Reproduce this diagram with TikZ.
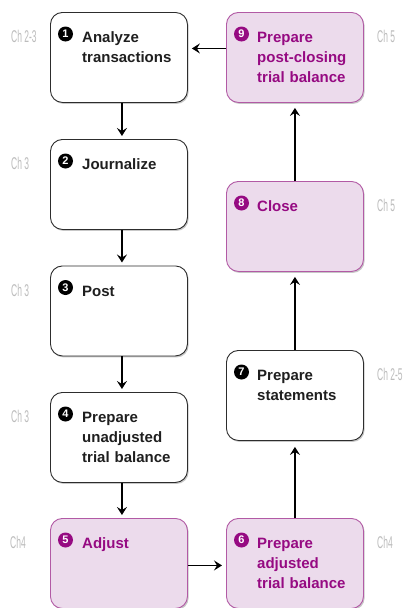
\documentclass[tikz,border=0pt]{standalone}
\usepackage{fontspec}
\setmainfont{Liberation Sans}
\newfontfamily\chfont{Liberation Sans}[FakeStretch=0.5]
\usetikzlibrary{arrows.meta,shadows,calc}
\definecolor{pinkfill}{RGB}{236,219,236}
\definecolor{pinkline}{RGB}{178,90,165}
\definecolor{purptext}{RGB}{150,10,130}
\definecolor{chgray}{RGB}{188,188,188}
\definecolor{boxline}{RGB}{45,45,45}
\tikzset{
  x=1pt, y=-1pt,
  stepbox/.style={draw=boxline, line width=0.9pt, fill=white, rounded corners=12pt,
    minimum width=137pt, minimum height=90pt, inner sep=0pt, anchor=north west,
    drop shadow={shadow xshift=1.2pt, shadow yshift=-1.5pt, opacity=0.22, fill=black}},
  pinkbox/.style={stepbox, draw=pinkline, fill=pinkfill},
  steptext/.style={anchor=base west, inner sep=0pt, text width=110pt, align=left,
    font=\fontsize{15}{20}\selectfont\bfseries, text=black!88},
  pinktext/.style={steptext, text=purptext},
  numdot/.style={circle, fill=black, text=white, minimum size=15pt, inner sep=0pt,
    font=\fontsize{11}{11}\selectfont\bfseries},
  pinkdot/.style={numdot, fill=purptext},
  chlbl/.style={anchor=base west, inner sep=0pt, text=chgray,
    font=\fontsize{17}{17}\selectfont\chfont},
  arr/.style={line width=1.3pt, -{Stealth[length=8pt,width=10pt,inset=3pt]}}
}
\begin{document}
\begin{tikzpicture}
\clip (0,0) rectangle (409,608);
\fill[white] (0,0) rectangle (409,608);
% boxes
\node[stepbox] (b1) at (50,12) {};
\node[stepbox] (b2) at (50,139) {};
\node[stepbox] (b3) at (50,265.5) {};
\node[stepbox] (b4) at (50,392) {};
\node[pinkbox] (b5) at (50,518) {};
\node[pinkbox] (b6) at (226,518) {};
\node[stepbox] (b7) at (226,350) {};
\node[pinkbox] (b8) at (226,181) {};
\node[pinkbox] (b9) at (226,12) {};
% numbers
\foreach \i/\s in {1/numdot,2/numdot,3/numdot,4/numdot,5/pinkdot,6/pinkdot,7/numdot,8/pinkdot,9/pinkdot}{
  \node[\s] (n\i) at ($(b\i.north west)+(15.5,22)$) {\i};
}
% texts
\node[steptext] (t1) at ($(b1.north west)+(32,30.5)$) {Analyze\\transactions};
\node[steptext] (t2) at ($(b2.north west)+(32,30.5)$) {Journalize};
\node[steptext] (t3) at ($(b3.north west)+(32,30.5)$) {Post};
\node[steptext] (t4) at ($(b4.north west)+(32,30.5)$) {Prepare\\unadjusted\\trial balance};
\node[pinktext] (t5) at ($(b5.north west)+(32,30.5)$) {Adjust};
\node[pinktext] (t6) at ($(b6.north west)+(31,30.5)$) {Prepare\\adjusted\\trial balance};
\node[steptext] (t7) at ($(b7.north west)+(31,30.5)$) {Prepare\\statements};
\node[pinktext] (t8) at ($(b8.north west)+(31,30.5)$) {Close};
\node[pinktext] (t9) at ($(b9.north west)+(31,30.5)$) {Prepare\\post-closing\\trial balance};
% chapter labels (baseline aligned with first text line)
\node[chlbl] (c1) at (11,42.5) {Ch 2-3};
\node[chlbl] (c2) at (11,169.5) {Ch 3};
\node[chlbl] (c3) at (11,296) {Ch 3};
\node[chlbl] (c4) at (11,422.5) {Ch 3};
\node[chlbl] (c5) at (10,548.5) {Ch4};
\node[chlbl] (c9) at (377,42.5) {Ch 5};
\node[chlbl] (c8) at (377,211.5) {Ch 5};
\node[chlbl] (c7) at (377,380.5) {Ch 2-5};
\node[chlbl] (c6) at (377,548.5) {Ch4};
% arrows
\draw[arr] ([xshift=3pt]b1.south) -- ([xshift=3pt,yshift=3pt]b2.north);
\draw[arr] ([xshift=3pt]b2.south) -- ([xshift=3pt,yshift=3pt]b3.north);
\draw[arr] ([xshift=3pt]b3.south) -- ([xshift=3pt,yshift=3pt]b4.north);
\draw[arr] ([xshift=3pt]b4.south) -- ([xshift=3pt,yshift=3pt]b5.north);
\draw[arr] ([yshift=-2pt]b5.east) -- ([xshift=-4pt,yshift=-2pt]b6.west);
\draw[arr] (b6.north) -- ([yshift=-6pt]b7.south);
\draw[arr] (b7.north) -- ([yshift=-5pt]b8.south);
\draw[arr] (b8.north) -- ([yshift=-5pt]b9.south);
\draw[arr] ([yshift=9pt]b9.west) -- ([xshift=4pt,yshift=9pt]b1.east);
\end{tikzpicture}
\end{document}
